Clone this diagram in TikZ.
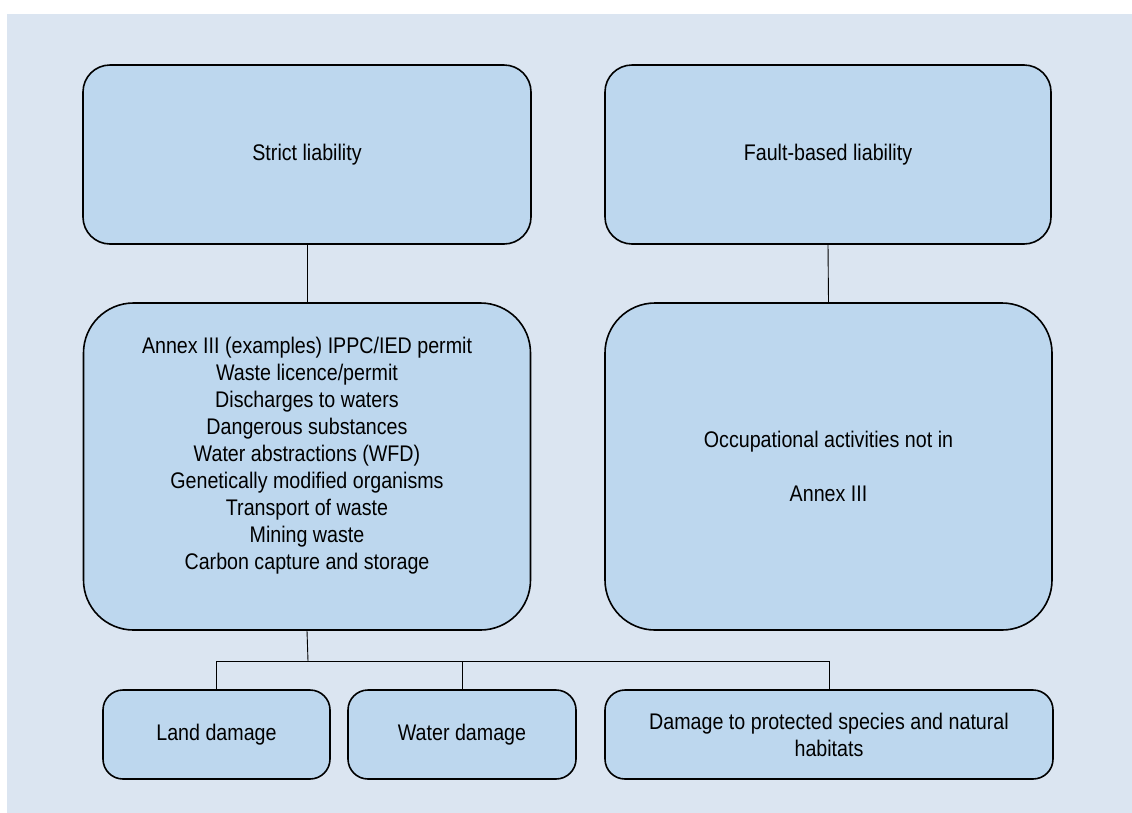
\documentclass[tikz,border=0pt]{standalone}
\usepackage{fontspec}
\setmainfont{Liberation Sans}[FakeStretch=0.87]
\definecolor{bgcol}{HTML}{DBE5F1}
\definecolor{boxcol}{HTML}{BDD7EE}
\begin{document}
\begin{tikzpicture}[x=1pt,y=-1pt,
  box/.style={draw=black, line width=1.6pt, fill=boxcol, rectangle, inner sep=0pt,
    align=center, font=\fontsize{22.6}{27}\selectfont},
  conn/.style={draw=black, line width=0.9pt}]
\useasboundingbox (0,0) rectangle (1132,812);
\fill[white] (-5,-5) rectangle (1140,820);
\fill[bgcol] (7,14) rectangle (1140,820);
\node[box, rounded corners=27pt, minimum width=448pt, minimum height=179pt] (strict) at (307,154.5) {Strict liability};
\node[box, rounded corners=27pt, minimum width=446pt, minimum height=179pt] (fault) at (828,154.5) {Fault-based liability};
\node[box, rounded corners=50pt, minimum width=447pt, minimum height=327pt] (annex) at (307,466.5) {Annex III (examples) IPPC/IED permit\\Waste licence/permit\\Discharges to waters\\Dangerous substances\\Water abstractions (WFD)\\Genetically modified organisms\\Transport of waste\\Mining waste\\Carbon capture and storage\\\mbox{}};
\node[box, rounded corners=50pt, minimum width=447pt, minimum height=327pt] (occ) at (828.5,466.5) {Occupational activities not in\\\mbox{}\\Annex III};
\node[box, rounded corners=20pt, minimum width=227pt, minimum height=89pt] (land) at (216.5,734.5) {Land damage};
\node[box, rounded corners=20pt, minimum width=228pt, minimum height=89pt] (water) at (462,734.5) {Water damage};
\node[box, rounded corners=20pt, minimum width=448pt, minimum height=89pt] (dmg) at (829,734.5) {Damage to protected species and natural\\habitats};
\coordinate (bus) at (308,661);
\draw[conn] (strict.south) -- (annex.north);
\draw[conn] (fault.south) -- (occ.north);
\draw[conn] (annex.south) -- (bus);
\draw[conn] (land.north) |- (bus) -| (dmg.north);
\draw[conn] (water.north) -- (water.north |- bus);
\end{tikzpicture}
\end{document}
